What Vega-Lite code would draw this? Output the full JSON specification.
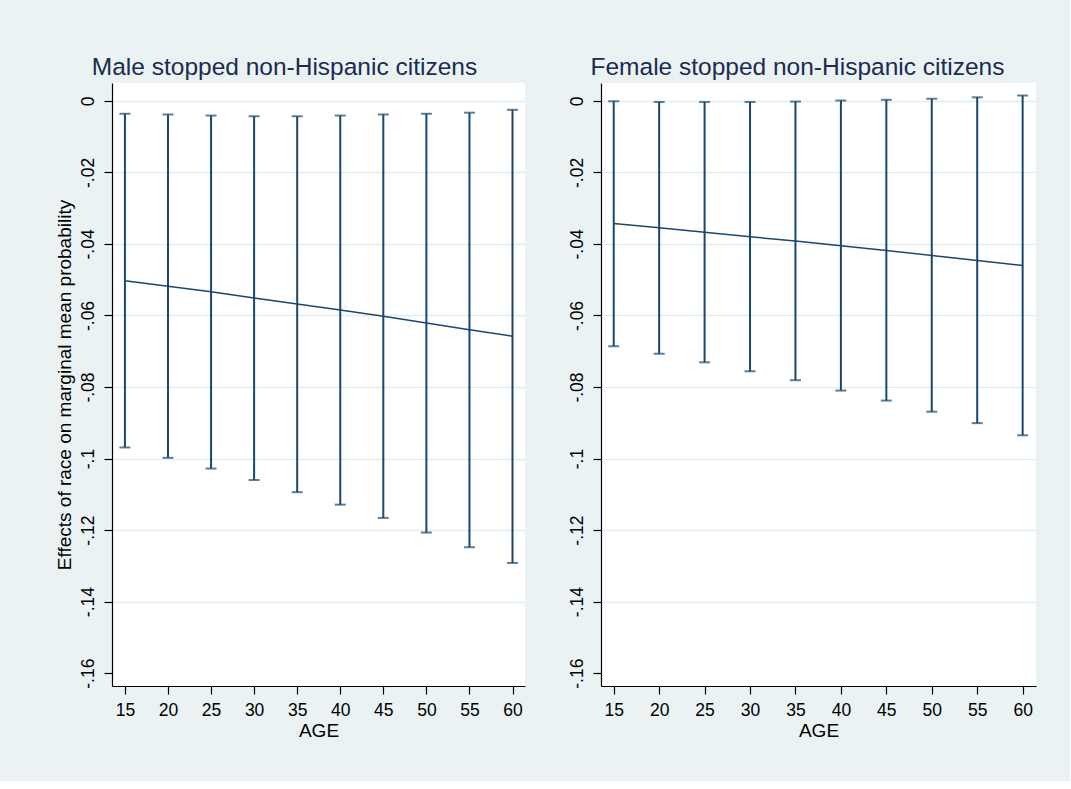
{
  "$schema": "https://vega.github.io/schema/vega-lite/v6.json",
  "background": "#EAF2F3",
  "padding": {"left": 55, "top": 54, "right": 34, "bottom": 40},
  "spacing": 43,
  "config": {
    "view": {"fill": "white", "stroke": null},
    "font": "Liberation Sans",
    "title": {"font": "Liberation Sans", "fontSize": 24.5, "fontWeight": "normal", "color": "#1C2B4F", "anchor": "middle", "offset": 3},
    "axis": {"domainColor": "black", "domainWidth": 1.2, "tickColor": "black", "tickWidth": 1.2, "labelFont": "Liberation Sans", "labelFontSize": 17.5, "labelColor": "black", "titleFont": "Liberation Sans", "titleFontSize": 19, "titleFontWeight": "normal", "titleColor": "black"}
  },
  "datasets": {
    "male": [
      {"age": 15, "est": -0.0503, "lo": -0.0969, "hi": -0.0036},
      {"age": 20, "est": -0.0518, "lo": -0.0998, "hi": -0.0038},
      {"age": 25, "est": -0.0534, "lo": -0.1028, "hi": -0.0041},
      {"age": 30, "est": -0.0551, "lo": -0.1060, "hi": -0.0043},
      {"age": 35, "est": -0.0568, "lo": -0.1094, "hi": -0.0043},
      {"age": 40, "est": -0.0585, "lo": -0.1129, "hi": -0.0041},
      {"age": 45, "est": -0.0602, "lo": -0.1166, "hi": -0.0038},
      {"age": 50, "est": -0.0621, "lo": -0.1207, "hi": -0.0036},
      {"age": 55, "est": -0.0640, "lo": -0.1248, "hi": -0.0033},
      {"age": 60, "est": -0.0658, "lo": -0.1292, "hi": -0.0025}
    ],
    "female": [
      {"age": 15, "est": -0.0343, "lo": -0.0686, "hi": -0.0001},
      {"age": 20, "est": -0.0355, "lo": -0.0707, "hi": -0.0003},
      {"age": 25, "est": -0.0367, "lo": -0.0731, "hi": -0.0003},
      {"age": 30, "est": -0.0380, "lo": -0.0756, "hi": -0.0003},
      {"age": 35, "est": -0.0392, "lo": -0.0781, "hi": -0.0002},
      {"age": 40, "est": -0.0405, "lo": -0.0810, "hi": 0.0001},
      {"age": 45, "est": -0.0418, "lo": -0.0838, "hi": 0.0003},
      {"age": 50, "est": -0.0432, "lo": -0.0869, "hi": 0.0006},
      {"age": 55, "est": -0.0446, "lo": -0.0901, "hi": 0.0010},
      {"age": 60, "est": -0.0460, "lo": -0.0935, "hi": 0.0015}
    ]
  },
  "hconcat": [
    {
      "width": 413,
      "height": 603,
      "title": {"text": "Male stopped non-Hispanic citizens", "dx": -34},
      "data": {"name": "male"},
      "encoding": {
        "x": {"field": "age", "type": "quantitative", "scale": {"domain": [13.5, 61.45], "nice": false, "zero": false},
          "axis": {"values": [15, 20, 25, 30, 35, 40, 45, 50, 55, 60], "title": "AGE", "tickSize": 8, "labelPadding": 7, "titlePadding": 3, "grid": false, "labelFlush": false}}
      },
      "layer": [
        {
          "mark": {"type": "errorbar", "color": "#1A476F", "ticks": {"size": 11, "thickness": 2, "color": "#1A476F"}, "rule": {"strokeWidth": 2}},
          "encoding": {
            "y": {"field": "lo", "type": "quantitative", "scale": {"domain": [-0.1636, 0.005], "nice": false, "zero": false},
              "axis": {"title": "Effects of race on marginal mean probability", "values": [0, -0.01, -0.02, -0.03, -0.04, -0.05, -0.06, -0.07, -0.08, -0.09, -0.1, -0.11, -0.12, -0.13, -0.14, -0.15, -0.16],
                "tickSize": {"condition": {"test": "abs(round(datum.value*100))%2===0", "value": 8}, "value": 4},
                "labelExpr": "abs(round(datum.value*100))%2===0 ? (datum.value < 0 ? '-' : '') + replace(format(abs(datum.value), '.2~f'), '0.', '.') : ''",
                "labelAngle": -90, "labelAlign": "center", "labelBaseline": "bottom", "labelPadding": 7, "labelOverlap": false, "labelFlush": false,
                "grid": true, "gridColor": "#E4EDF0", "gridWidth": 1.5,
                "gridOpacity": {"condition": {"test": "abs(round(datum.value*100))%2===0 && datum.value > -0.15", "value": 1}, "value": 0},
                "titlePadding": 5}},
            "y2": {"field": "hi"}
          }
        },
        {
          "mark": {"type": "line", "color": "#1A476F", "strokeWidth": 1.5},
          "encoding": {"y": {"field": "est", "type": "quantitative", "title": "Effects of race on marginal mean probability"}}
        }
      ]
    },
    {
      "width": 435,
      "height": 603,
      "title": {"text": "Female stopped non-Hispanic citizens", "dx": -21},
      "data": {"name": "female"},
      "encoding": {
        "x": {"field": "age", "type": "quantitative", "scale": {"domain": [13.6, 61.47], "nice": false, "zero": false},
          "axis": {"values": [15, 20, 25, 30, 35, 40, 45, 50, 55, 60], "title": "AGE", "tickSize": 8, "labelPadding": 7, "titlePadding": 3, "grid": false, "labelFlush": false}}
      },
      "layer": [
        {
          "mark": {"type": "errorbar", "color": "#1A476F", "ticks": {"size": 11, "thickness": 2, "color": "#1A476F"}, "rule": {"strokeWidth": 2}},
          "encoding": {
            "y": {"field": "lo", "type": "quantitative", "scale": {"domain": [-0.1636, 0.005], "nice": false, "zero": false},
              "axis": {"title": null, "values": [0, -0.01, -0.02, -0.03, -0.04, -0.05, -0.06, -0.07, -0.08, -0.09, -0.1, -0.11, -0.12, -0.13, -0.14, -0.15, -0.16],
                "tickSize": {"condition": {"test": "abs(round(datum.value*100))%2===0", "value": 8}, "value": 4},
                "labelExpr": "abs(round(datum.value*100))%2===0 ? (datum.value < 0 ? '-' : '') + replace(format(abs(datum.value), '.2~f'), '0.', '.') : ''",
                "labelAngle": -90, "labelAlign": "center", "labelBaseline": "bottom", "labelPadding": 7, "labelOverlap": false, "labelFlush": false,
                "grid": true, "gridColor": "#E4EDF0", "gridWidth": 1.5,
                "gridOpacity": {"condition": {"test": "abs(round(datum.value*100))%2===0 && datum.value > -0.15", "value": 1}, "value": 0}}},
            "y2": {"field": "hi"}
          }
        },
        {
          "mark": {"type": "line", "color": "#1A476F", "strokeWidth": 1.5},
          "encoding": {"y": {"field": "est", "type": "quantitative", "title": null}}
        }
      ]
    }
  ]
}
